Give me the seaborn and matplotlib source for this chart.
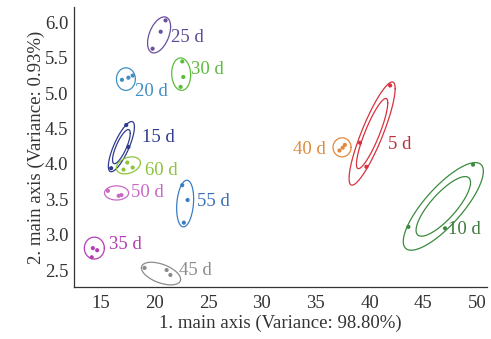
import numpy as np
import pandas as pd
import matplotlib
matplotlib.use("Agg")
import matplotlib.pyplot as plt
import seaborn as sns

# ---- data ----
groups = ["5 d", "10 d", "15 d", "20 d", "25 d", "30 d",
          "35 d", "40 d", "45 d", "50 d", "55 d", "60 d"]
colors = ["#d8323f", "#3b8a3e", "#2f3c8f", "#3f8fc2", "#6a4fa0", "#5cbd3c",
          "#b43db2", "#e3883a", "#8c8c8c", "#c76ac6", "#3b7dc6", "#8cc43c"]
label_colors = ["#b8303c", "#3f7a40", "#2f3c8f", "#3f8fc2", "#5e4a98", "#5cbd3c",
                "#b43db2", "#e08a3a", "#8c8c8c", "#c76ac6", "#3b6fb6", "#8cc43c"]

# sample points (x = 1. main axis, y = 2. main axis)
pts_x = {
    "5 d": [41.9, 39.1, 39.7], "10 d": [49.6, 43.6, 47.0],
    "15 d": [17.4, 17.6, 16.0], "20 d": [17.0, 18.0, 17.6],
    "25 d": [21.05, 20.6, 19.85], "30 d": [22.6, 22.7, 22.45],
    "35 d": [14.3, 14.7, 14.2], "40 d": [37.5, 37.7, 37.2],
    "45 d": [19.1, 21.15, 21.5], "50 d": [16.7, 16.95, 15.7],
    "55 d": [22.6, 23.1, 22.75], "60 d": [17.5, 17.15, 18.0],
}
pts_y = {
    "5 d": [5.11, 4.30, 3.96], "10 d": [3.99, 3.11, 3.09],
    "15 d": [4.55, 4.24, 3.94], "20 d": [5.19, 5.25, 5.22],
    "25 d": [6.03, 5.87, 5.63], "30 d": [5.45, 5.23, 5.09],
    "35 d": [2.81, 2.78, 2.68], "40 d": [4.23, 4.27, 4.19],
    "45 d": [2.53, 2.50, 2.43], "50 d": [3.55, 3.56, 3.62],
    "55 d": [3.70, 3.49, 3.17], "60 d": [4.02, 3.92, 3.95],
}

# confidence ellipses: centre, half extents, tilt (correlation), inner ring
ell_cx = [40.23, 46.84, 16.95, 17.37, 20.45, 22.50, 14.44, 37.44, 20.63, 16.50, 22.87, 17.60]
ell_cy = [4.43, 3.40, 4.245, 5.20, 5.825, 5.27, 2.81, 4.235, 2.45, 3.59, 3.44, 3.98]
ell_sx = [2.14, 3.72, 1.21, 0.88, 1.07, 0.88, 0.93, 0.84, 1.82, 1.12, 0.79, 1.12]
ell_sy = [0.73, 0.62, 0.355, 0.16, 0.255, 0.23, 0.155, 0.135, 0.16, 0.10, 0.33, 0.12]
ell_rho = [0.87, 0.80, 0.78, 0.0, 0.45, -0.05, 0.0, 0.0, -0.5, 0.0, 0.2, 0.3]
ell_inner = [True, True, True, False, False, False, False, False, False, False, False, False]
inner_scale = 0.68

# label anchors
lab_x = [41.7, 47.3, 18.9, 18.2, 21.6, 23.4, 15.8, 35.9, 22.3, 17.8, 24.0, 19.1]
lab_y = [4.27, 3.07, 4.37, 5.02, 5.79, 5.33, 2.86, 4.21, 2.50, 3.59, 3.47, 3.91]
lab_ha = ["left", "left", "left", "left", "left", "left",
          "left", "right", "left", "left", "left", "left"]

xticks = [15, 20, 25, 30, 35, 40, 45, 50]
yticks = [2.5, 3.0, 3.5, 4.0, 4.5, 5.0, 5.5, 6.0]
xlabel = "1. main axis (Variance: 98.80%)"
ylabel = "2. main axis (Variance: 0.93%)"

# ---- plotting ----
sns.set_theme(style="white")
plt.rcParams["font.family"] = ["Liberation Serif", "DejaVu Serif"]

fig = plt.figure(figsize=(4.91, 3.39), dpi=100)
ax = fig.add_axes([0.1507, 0.1534, 0.8412, 0.826])

rows = []
for g in groups:
    for xv, yv in zip(pts_x[g], pts_y[g]):
        rows.append({"x": xv, "y": yv, "group": g})
df = pd.DataFrame(rows)
pal = dict(zip(groups, colors))

t = np.linspace(0, 2 * np.pi, 200)
for i, g in enumerate(groups):
    scales = [1.0, inner_scale] if ell_inner[i] else [1.0]
    r = ell_rho[i]
    for s in scales:
        ex = ell_cx[i] + s * ell_sx[i] * np.cos(t)
        ey = ell_cy[i] + s * ell_sy[i] * (r * np.cos(t) + np.sqrt(1 - r * r) * np.sin(t))
        ax.plot(ex, ey, color=colors[i], lw=0.9, zorder=2)
    ax.text(lab_x[i], lab_y[i], g, color=label_colors[i], fontsize=13.5,
            ha=lab_ha[i], va="center", zorder=4)

sns.scatterplot(data=df, x="x", y="y", hue="group", palette=pal, s=9,
                edgecolor="none", legend=False, ax=ax, zorder=3)

ax.set_xlim(12.55, 50.9)
ax.set_ylim(2.26, 6.22)
ax.set_xticks(xticks)
ax.set_yticks(yticks)
ax.set_xticklabels([str(v) for v in xticks])
ax.set_yticklabels([f"{v:.1f}" for v in yticks])
ax.tick_params(direction="in", length=4, width=0.8, color="#333333",
               labelsize=13.5, labelcolor="#333333")
ax.tick_params(axis="x", pad=6)
ax.tick_params(axis="y", pad=4)
for side in ["top", "right"]:
    ax.spines[side].set_visible(False)
for side in ["left", "bottom"]:
    ax.spines[side].set_color("#333333")
    ax.spines[side].set_linewidth(0.9)
ax.set_xlabel(xlabel, fontsize=13.5, color="#333333", labelpad=2)
ax.set_ylabel(ylabel, fontsize=13.5, color="#333333", labelpad=0)

fig.savefig("out.png", dpi=100)
